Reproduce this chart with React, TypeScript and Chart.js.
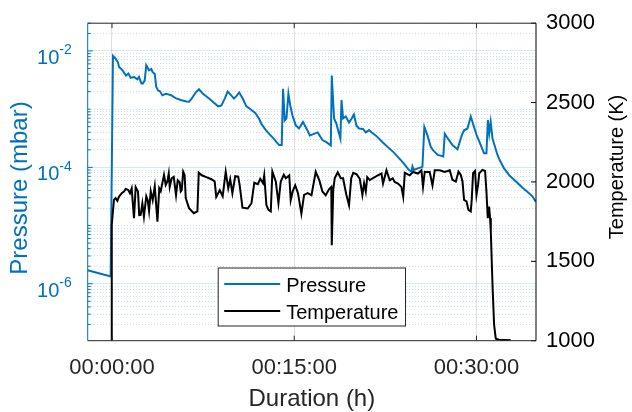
import React, { useEffect, useRef } from 'react';
import { Chart, registerables } from 'chart.js';

Chart.register(...registerables);

const FONT = "'Liberation Sans', Arial, Helvetica, sans-serif";

// Duration in minutes
const timePressure = [
  -2.0, -1.01, -0.11, 0.08, 0.3, 0.49, 0.58, 0.77, 0.86, 1.15,
  1.35, 1.54, 1.81, 2.09, 2.22, 2.42, 2.53, 2.69, 2.82, 3.05,
  3.24, 3.33, 3.52, 3.64, 3.79, 3.93, 4.15, 4.42, 4.83, 5.24,
  5.66, 6.12, 6.34, 6.54, 6.89, 7.16, 7.49, 7.99, 8.37, 8.73,
  9.01, 9.28, 9.52, 9.83, 10.04, 10.27, 10.47, 10.76, 11.05, 11.42,
  11.79, 12.12, 12.32, 12.68, 12.98, 13.25, 13.56, 13.76, 13.97, 14.08,
  14.22, 14.36, 14.52, 14.67, 14.85, 15.12, 15.39, 15.72, 16.09, 16.28,
  16.52, 16.93, 17.32, 17.68, 18.01, 18.09, 18.28, 18.46, 18.62, 18.8,
  18.89, 19.02, 19.24, 19.51, 19.73, 19.91, 20.12, 20.33, 20.66, 20.89,
  21.16, 21.38, 21.75, 22.29, 22.82, 23.19, 23.64, 24.01, 24.43, 24.65,
  24.73, 24.84, 25.17, 25.55, 25.71, 25.98, 26.24, 26.44, 26.81, 27.27,
  27.39, 27.64, 28.02, 28.44, 28.81, 28.99, 29.26, 29.53, 29.8, 30.02,
  30.23, 30.62, 30.82, 30.94, 31.05, 31.17, 31.32, 31.73, 31.92, 32.27,
  32.74, 32.96, 33.32, 33.79, 34.14, 34.61, 34.88,
];

// Pressure in mbar
const pressureMbar = [
  1.7e-6, 1.5e-6, 1.34e-6, 8.21e-3, 7.38e-3, 6.38e-3, 5.32e-3, 4.92e-3, 4.65e-3, 3.77e-3,
  4.08e-3, 3.45e-3, 3.58e-3, 3.26e-3, 3.58e-3, 2.78e-3, 2.75e-3, 3.1e-3, 5.66e-3, 4.65e-3,
  4.92e-3, 4.37e-3, 4.03e-3, 2.42e-3, 2.09e-3, 2.05e-3, 1.73e-3, 1.83e-3, 1.75e-3, 1.55e-3,
  1.44e-3, 1.35e-3, 1.34e-3, 1.5e-3, 1.93e-3, 2.2e-3, 1.83e-3, 1.52e-3, 1.3e-3, 1.12e-3,
  1.16e-3, 1.52e-3, 2.01e-3, 1.71e-3, 1.52e-3, 1.71e-3, 1.93e-3, 1.52e-3, 1.13e-3, 9.86e-4,
  8.59e-4, 6.78e-4, 5.46e-4, 4.31e-4, 3.68e-4, 3.21e-4, 2.68e-4, 2.43e-4, 2.43e-4, 2.23e-3,
  6.39e-4, 6.92e-4, 1.85e-3, 1.16e-3, 7.87e-4, 5.31e-4, 4.66e-4, 6.02e-4, 4.31e-4, 3.53e-4,
  3.68e-4, 3.98e-4, 2.94e-4, 2.68e-4, 2.38e-4, 3.77e-3, 6.92e-4, 5.68e-4, 4.31e-4, 3.14e-4,
  1.44e-3, 6.92e-4, 7.48e-4, 5.9e-4, 6.92e-4, 8.1e-4, 5.25e-4, 4.66e-4, 4.57e-4, 3.98e-4,
  4.36e-4, 3.98e-4, 3.47e-4, 2.68e-4, 2.12e-4, 1.81e-4, 1.43e-4, 1.17e-4, 9.06e-5, 8.37e-5,
  1.04e-4, 9.06e-5, 9.61e-5, 1.02e-4, 4.94e-4, 3.47e-4, 2.26e-4, 1.95e-4, 1.64e-4, 1.54e-4,
  3.78e-4, 3.14e-4, 2.41e-4, 2.04e-4, 3.68e-4, 4.34e-4, 4.66e-4, 7.48e-4, 4.94e-4, 3.53e-4,
  2.79e-4, 1.74e-4, 1.74e-4, 6.52e-4, 3.83e-4, 6.02e-4, 3.14e-4, 1.63e-4, 1.32e-4, 9.61e-5,
  7.15e-5, 6.48e-5, 5.53e-5, 4.45e-5, 3.88e-5, 3.18e-5, 2.56e-5,
];

// Duration in minutes
const timeTemperature = [
  -2, -0.04, -0.02, 0.16, 0.3, 0.44, 0.58, 0.8, 0.99, 1.13,
  1.35, 1.48, 1.62, 1.81, 1.95, 2.14, 2.24, 2.36, 2.5, 2.63,
  2.82, 2.94, 3.05, 3.19, 3.35, 3.52, 3.74, 3.89, 4.01, 4.28,
  4.42, 4.56, 4.67, 4.75, 4.91, 5.08, 5.27, 5.41, 5.57, 5.66,
  5.74, 5.86, 5.98, 6.07, 6.34, 6.73, 7.03, 7.14, 7.38, 7.76,
  8.18, 8.45, 8.58, 8.87, 9.11, 9.36, 9.57, 9.73, 9.91, 10.14,
  10.39, 10.51, 10.74, 11.17, 11.48, 11.71, 12.0, 12.2, 12.43, 12.53,
  12.71, 12.88, 13.07, 13.2, 13.48, 13.7, 13.89, 14.14, 14.3, 14.46,
  14.59, 14.71, 14.88, 15.08, 15.31, 15.59, 15.81, 16.11, 16.42, 16.77,
  17.06, 17.32, 17.59, 17.86, 18.05, 18.09, 18.21, 18.33, 18.58, 18.83,
  19.02, 19.28, 19.51, 19.69, 19.86, 20.14, 20.39, 20.61, 20.75, 20.89,
  21.01, 21.22, 21.38, 21.77, 22.04, 22.18, 22.31, 22.59, 22.86, 23.11,
  23.27, 23.54, 23.82, 23.97, 24.1, 24.51, 24.78, 25.19, 25.47, 25.6,
  25.74, 26.15, 26.38, 26.57, 26.98, 27.39, 27.8, 28.02, 28.3, 28.52,
  28.71, 28.85, 28.98, 29.18, 29.34, 29.53, 29.61, 29.72, 29.88, 30.0,
  30.13, 30.23, 30.49, 30.71, 30.82, 30.93, 31.04, 31.12, 31.18, 31.32,
  31.45, 31.59, 31.86, 32.82,
];

// Temperature in K
const temperatureK = [
  300, 300, 1730, 1887, 1898, 1881, 1908, 1929, 1940, 1957,
  1948, 1929, 1960, 1772, 1967, 1940, 1791, 1793, 1864, 1781,
  1910, 1885, 1816, 1942, 1885, 1973, 1750, 1960, 1942, 2044,
  1981, 2003, 2053, 1969, 2023, 2032, 1916, 2011, 1998, 1940,
  1948, 2064, 2042, 1898, 1835, 1803, 1814, 2058, 2042, 2030,
  2017, 2004, 1906, 1948, 1910, 2064, 1960, 2017, 1929, 2036,
  2033, 1979, 1838, 1833, 1866, 1995, 1986, 2020, 1992, 2042,
  1854, 1824, 1814, 2065, 2003, 1866, 2003, 2045, 2023, 2033,
  2042, 1885, 1942, 1979, 1929, 1800, 1918, 1929, 1916, 2064,
  2011, 1940, 1916, 1954, 1969, 1602, 1948, 2023, 2061, 2023,
  2023, 1923, 1854, 2023, 2058, 2048, 2021, 1918, 1992, 1940,
  2030, 2011, 2020, 2036, 2048, 2053, 1990, 2074, 2011, 2023,
  2000, 1990, 1969, 1907, 2058, 2042, 2063, 2053, 2074, 1969,
  2063, 2063, 1979, 2074, 2074, 2063, 2074, 2013, 2003, 2065,
  2044, 2003, 1887, 1877, 1824, 1814, 1887, 2055, 2069, 1918,
  1981, 2055, 2076, 2069, 1940, 1772, 1845, 1772, 1688, 1352,
  1101, 1013, 1006, 1003,
];

const xTickMinutes = [0, 15, 30];
const temperatureTicks = [1000, 1500, 2000, 2500, 3000];
const pressureLabelExponents = [-6, -4, -2];

const xTitle = 'Duration (h)';
const leftTitle = 'Pressure (mbar)';
const rightTitle = 'Temperature (K)';

const BLUE = '#0072BD';
const DARK = '#262626';

function fmtDuration(m: number): string {
  const tot = Math.round(m * 60);
  const h = Math.floor(tot / 3600);
  const mi = Math.floor((tot % 3600) / 60);
  const s = tot % 60;
  return [h, mi, s].map((v) => String(v).padStart(2, '0')).join(':');
}

const overlayPlugin = {
  id: 'overlay',
  afterDraw(chart: any) {
    const { ctx, chartArea } = chart;
    const { left, right, top, bottom } = chartArea;
    const xs = chart.scales.x;
    const yp = chart.scales.yP;
    const yt = chart.scales.yT;
    ctx.save();
    ctx.lineWidth = 1;
    const seg = (x1: number, y1: number, x2: number, y2: number, c: string, w = 1) => {
      ctx.strokeStyle = c;
      ctx.lineWidth = w;
      ctx.beginPath();
      ctx.moveTo(x1, y1);
      ctx.lineTo(x2, y2);
      ctx.stroke();
    };
    // inward ticks
    xTickMinutes.forEach((v) => {
      const px = xs.getPixelForValue(v);
      seg(px, bottom, px, bottom - 5, DARK);
      seg(px, top, px, top + 5, DARK);
    });
    yp.ticks.forEach((t: any) => {
      const py = yp.getPixelForValue(t.value);
      const len = t.major ? 5 : 3;
      seg(left, py, left + len, py, BLUE);
    });
    temperatureTicks.forEach((v) => {
      const py = yt.getPixelForValue(v);
      seg(right, py, right - 5, py, '#000000');
    });
    // box
    seg(left, top, right, top, DARK);
    seg(left, bottom, right, bottom, DARK);
    seg(left, top, left, bottom, BLUE);
    seg(right, top, right, bottom, '#000000');

    // left tick labels 10^e
    ctx.fillStyle = BLUE;
    ctx.textBaseline = 'alphabetic';
    ctx.textAlign = 'right';
    pressureLabelExponents.forEach((e) => {
      const py = yp.getPixelForValue(Math.pow(10, e));
      const exp = String(e);
      ctx.font = `14px ${FONT}`;
      const ew = ctx.measureText(exp).width;
      const rx = left - 16;
      ctx.fillText(exp, rx, py + 3.5);
      ctx.font = `20px ${FONT}`;
      ctx.fillText('10', rx - ew, py + 13);
    });

    // titles
    ctx.textAlign = 'center';
    ctx.textBaseline = 'alphabetic';
    ctx.fillStyle = DARK;
    ctx.font = `24px ${FONT}`;
    ctx.fillText(xTitle, (left + right) / 2, 406);

    ctx.save();
    ctx.translate(26.5, 188);
    ctx.rotate(-Math.PI / 2);
    ctx.fillStyle = BLUE;
    ctx.font = `24px ${FONT}`;
    ctx.fillText(leftTitle, 0, 0);
    ctx.restore();

    ctx.save();
    ctx.translate(622.5, 167);
    ctx.rotate(-Math.PI / 2);
    ctx.fillStyle = '#000000';
    ctx.font = `20px ${FONT}`;
    ctx.fillText(rightTitle, 0, 0);
    ctx.restore();

    // legend
    const ds = chart.data.datasets;
    ctx.font = `20px ${FONT}`;
    const tw = Math.max(...ds.map((d: any) => ctx.measureText(d.label).width));
    const bw = 6 + 56 + 6 + tw + 7;
    const bh = 58;
    const bx = (left + right) / 2 - bw / 2;
    const by = bottom - 14.7 - bh;
    ctx.fillStyle = '#ffffff';
    ctx.fillRect(bx, by, bw, bh);
    ctx.strokeStyle = DARK;
    ctx.lineWidth = 1;
    ctx.strokeRect(bx, by, bw, bh);
    ds.forEach((d: any, i: number) => {
      const cy = by + 16 + i * 27;
      seg(bx + 6, cy, bx + 62, cy, d.borderColor, 2);
      ctx.fillStyle = '#000000';
      ctx.textAlign = 'left';
      ctx.textBaseline = 'alphabetic';
      ctx.fillText(d.label, bx + 68, cy + 8);
    });
    ctx.restore();
  },
};

export default function App() {
  const ref = useRef<HTMLCanvasElement | null>(null);

  useEffect(() => {
    if (!ref.current) return;
    const chart = new Chart(ref.current, {
      type: 'line',
      data: {
        datasets: [
          {
            label: 'Pressure',
            data: timePressure.map((t, i) => ({ x: t, y: pressureMbar[i] })),
            yAxisID: 'yP',
            borderColor: BLUE,
            borderWidth: 2,
            pointRadius: 0,
            tension: 0,
            order: 1,
          },
          {
            label: 'Temperature',
            data: timeTemperature.map((t, i) => ({ x: t, y: temperatureK[i] })),
            yAxisID: 'yT',
            borderColor: '#000000',
            borderWidth: 2,
            pointRadius: 0,
            tension: 0,
            order: 0,
          },
        ],
      },
      options: {
        animation: false,
        responsive: false,
        devicePixelRatio: 1,
        layout: { padding: { top: 22.7, left: 0, right: 0, bottom: 0 } },
        plugins: { legend: { display: false }, tooltip: { enabled: false } },
        scales: {
          x: {
            type: 'linear',
            min: -2,
            max: 34.9,
            afterBuildTicks: (s: any) => {
              s.ticks = xTickMinutes.map((v) => ({ value: v }));
            },
            afterFit: (s: any) => {
              s.height = 71.3;
            },
            ticks: {
              callback: (v: any) => fmtDuration(Number(v)),
              font: { family: FONT, size: 22 },
              color: DARK,
              padding: 14,
              maxRotation: 0,
              autoSkip: false,
            },
            grid: { color: 'rgba(38,38,38,0.15)', drawTicks: false, lineWidth: 1 },
            border: { display: false },
          },
          yP: {
            type: 'logarithmic',
            position: 'left',
            min: 1.05e-7,
            max: 0.03,
            afterBuildTicks: (s: any) => {
              const ticks: any[] = [];
              for (let e = -7; e <= -2; e++) {
                for (let k = 1; k <= 9; k++) {
                  const v = k * Math.pow(10, e);
                  if (v >= s.min * 0.999 && v <= s.max * 1.001) {
                    ticks.push({ value: v, major: k === 1 && e % 2 === 0 });
                  }
                }
              }
              s.ticks = ticks;
            },
            afterFit: (s: any) => {
              s.width = 87.7;
            },
            ticks: { display: false },
            grid: {
              drawTicks: false,
              color: (c: any) =>
                c.tick && c.tick.major ? 'rgba(0,114,189,0.15)' : 'rgba(0,114,189,0.22)',
            },
            border: {
              display: false,
              dash: (c: any) => (c.tick && c.tick.major ? [] : [1, 2]),
            },
          },
          yT: {
            type: 'linear',
            position: 'right',
            min: 1000,
            max: 3000,
            afterBuildTicks: (s: any) => {
              s.ticks = temperatureTicks.map((v) => ({ value: v }));
            },
            afterFit: (s: any) => {
              s.width = 96;
            },
            ticks: {
              callback: (v: any) => String(v),
              font: { family: FONT, size: 22 },
              color: '#000000',
              padding: 10,
            },
            grid: { display: false, drawTicks: false },
            border: { display: false },
          },
        },
      } as any,
      plugins: [overlayPlugin],
    });
    return () => chart.destroy();
  }, []);

  return (
    <div style={{ position: 'fixed', left: 0, top: 0, width: 632, height: 412, background: '#fff' }}>
      <canvas ref={ref} width={632} height={412} style={{ display: 'block' }} />
    </div>
  );
}
